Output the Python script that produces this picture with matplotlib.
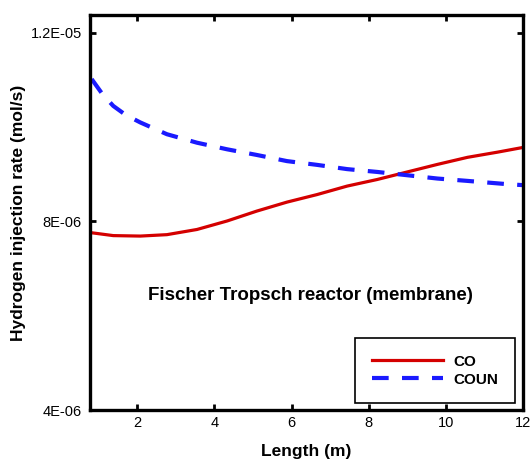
import numpy as np
import matplotlib.pyplot as plt

plt.rcParams['font.family'] = ['Liberation Sans', 'DejaVu Sans']

# values (units of 1e-6 mol/s)
length = [0.82, 1.38, 2.08, 2.77, 3.55, 4.33, 5.10, 5.88, 6.66, 7.44, 8.22, 9.00, 9.78, 10.56, 11.34, 12.0]
co = [7.76, 7.70, 7.69, 7.72, 7.83, 8.01, 8.22, 8.41, 8.57, 8.75, 8.89, 9.05, 9.21, 9.36, 9.47, 9.57]
length_coun = [0.82, 1.1, 1.38, 1.7, 2.08, 2.77, 3.55, 4.33, 5.10, 5.88, 6.66, 7.44, 8.22, 9.00, 9.78, 10.56, 11.6, 12.0]
coun = [11.02, 10.70, 10.45, 10.26, 10.10, 9.85, 9.67, 9.53, 9.41, 9.28, 9.20, 9.11, 9.05, 8.98, 8.91, 8.86, 8.79, 8.77]

yticks = [4e-6, 8e-6, 1.2e-5]
ytick_labels = ["4E-06", "8E-06", "1.2E-05"]
xticks = [2, 4, 6, 8, 10, 12]

fig = plt.figure(figsize=(5.3, 4.66), dpi=100)
ax = fig.add_axes([0.170, 0.120, 0.817, 0.848])

ax.plot(length, np.array(co) * 1e-6, color='#d40000', lw=2.3, label='CO')
ax.plot(length_coun, np.array(coun) * 1e-6, color='#1a1aff', lw=3, dashes=(4, 3.2), label='COUN')

ax.set_xlim(0.78, 12)
ax.set_ylim(4e-6, 1.238e-5)
ax.set_xticks(xticks)
ax.set_yticks(yticks)
ax.set_yticklabels(ytick_labels)

ax.tick_params(direction='in', length=4, width=2, top=True, right=True,
               labelsize=10.5, colors='black', pad=4)
ax.tick_params(axis='y', pad=6)
for s in ax.spines.values():
    s.set_linewidth(2.4)

ax.set_xlabel("Length (m)", fontsize=12.5, fontweight='bold', labelpad=10)
ax.set_ylabel("Hydrogen injection rate (mol/s)", fontsize=12.5, fontweight='bold')
ax.yaxis.set_label_coords(-0.148, 0.5)

ax.text(0.508, 0.289, "Fischer Tropsch reactor (membrane)", transform=ax.transAxes,
        ha='center', va='center', fontsize=13.5, fontweight='bold')

leg = ax.legend(loc='lower right', bbox_to_anchor=(0.981, 0.017),
                prop={'weight': 'bold', 'size': 11}, fancybox=False, framealpha=1,
                edgecolor='black', handlelength=4.6, handletextpad=0.7, borderpad=1.1,
                labelspacing=0.25, borderaxespad=0)
leg.get_frame().set_linewidth(1.2)

fig.savefig("out.png", dpi=100)
